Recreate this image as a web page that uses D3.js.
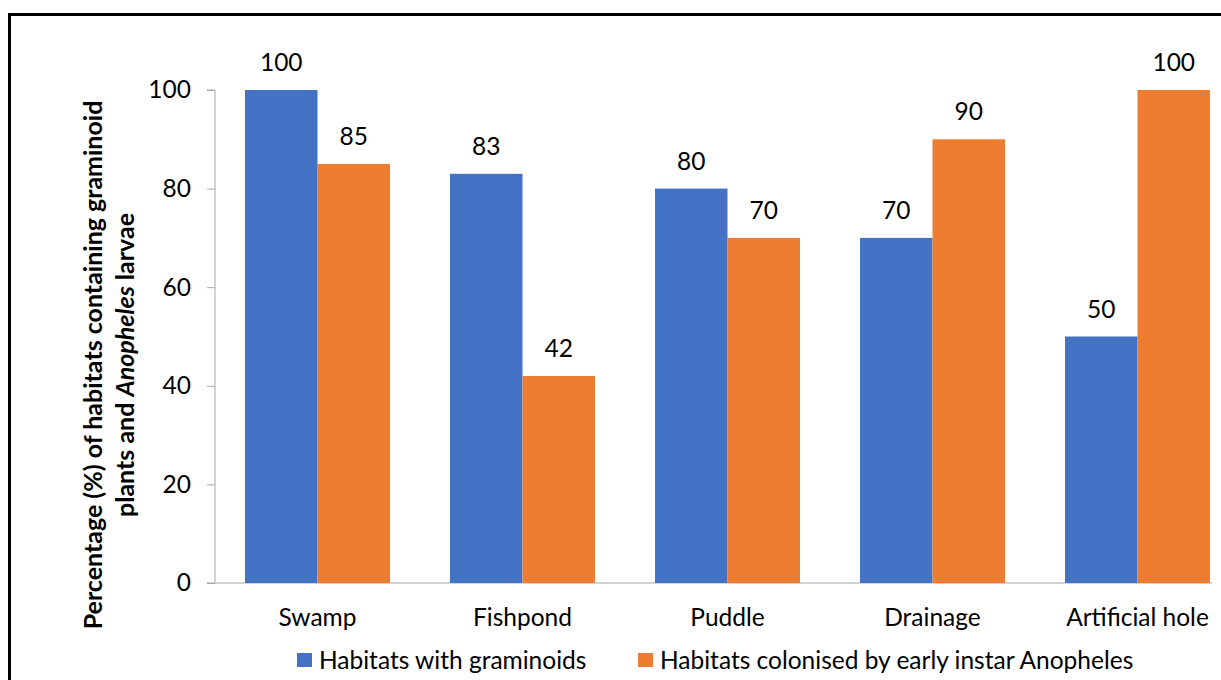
<!DOCTYPE html>
<html>
<head>
<meta charset="utf-8">
<script src="https://cdn.jsdelivr.net/npm/d3@7"></script>
<style>
  html, body { margin: 0; padding: 0; background: #fff; }
  svg { display: block; }
  text { font-family: Lato, "Open Sans", sans-serif; fill: #000; }
</style>
</head>
<body>
<svg id="chart" width="1221" height="680"></svg>
<script>
// Habitat types and the two percentage series
const categories = ["Swamp", "Fishpond", "Puddle", "Drainage", "Artificial hole"];
const graminoids = [100, 83, 80, 70, 50];
const colonised = [85, 42, 70, 90, 100];
const seriesNames = ["Habitats with graminoids", "Habitats colonised by early instar Anopheles"];
const yTicks = [0, 20, 40, 60, 80, 100];

const colors = ["#4472C4", "#ED7D31"];
const series = [graminoids, colonised];
const fontSize = 24.5;

const svg = d3.select("#chart");

// outer frame
svg.append("rect")
  .attr("x", 9.5).attr("y", 14.5)
  .attr("width", 1260).attr("height", 700)
  .attr("fill", "none").attr("stroke", "#000").attr("stroke-width", 3);

const plot = { left: 215, right: 1240, top: 90, bottom: 583 };

const x = d3.scaleBand()
  .domain(categories)
  .range([plot.left, plot.right])
  .paddingInner(0)
  .paddingOuter(0);

const groupPad = 30; // space on each side of a bar pair inside its band
const xInner = d3.scaleBand()
  .domain([0, 1])
  .range([groupPad, x.bandwidth() - groupPad]);

const y = d3.scaleLinear().domain([0, 100]).range([plot.bottom, plot.top]);

// y axis
const yAxis = d3.axisLeft(y).tickValues(yTicks).tickSize(8).tickPadding(16);
const gy = svg.append("g").attr("transform", `translate(${plot.left},0)`).call(yAxis);
gy.select(".domain").attr("stroke", "#A6A6A6").attr("d", `M-8,${plot.top}H0V${plot.bottom}`);
gy.selectAll(".tick line").attr("stroke", "#A6A6A6");
gy.selectAll(".tick text")
  .attr("font-family", "Lato, sans-serif")
  .attr("font-size", fontSize).attr("fill", "#000");

// x axis baseline
svg.append("line")
  .attr("x1", plot.left - 8).attr("x2", 1212)
  .attr("y1", y(0)).attr("y2", y(0))
  .attr("stroke", "#A6A6A6").attr("stroke-width", 1);

// bars and value labels
const groups = svg.append("g").selectAll("g")
  .data(categories)
  .join("g")
  .attr("transform", d => `translate(${x(d)},0)`);

series.forEach((vals, si) => {
  groups.append("rect")
    .attr("x", xInner(si))
    .attr("width", xInner.bandwidth())
    .attr("y", (d, i) => y(vals[i]))
    .attr("height", (d, i) => y(0) - y(vals[i]))
    .attr("fill", colors[si]);
  groups.append("text")
    .attr("x", xInner(si) + xInner.bandwidth() / 2)
    .attr("y", (d, i) => y(vals[i]) - 19)
    .attr("text-anchor", "middle")
    .attr("font-size", fontSize)
    .text((d, i) => vals[i]);
});

// category labels
svg.append("g").selectAll("text")
  .data(categories)
  .join("text")
  .attr("x", d => x(d) + x.bandwidth() / 2)
  .attr("y", 626)
  .attr("text-anchor", "middle")
  .attr("font-size", fontSize)
  .text(d => d);

// y axis title, two lines
const title = svg.append("g").attr("transform", "translate(0,365) rotate(-90)");
title.append("text")
  .attr("x", 0).attr("y", 102)
  .attr("text-anchor", "middle")
  .attr("font-size", 25).attr("font-weight", "bold")
  .text("Percentage (%) of habitats containing graminoid");
const t2 = title.append("text")
  .attr("x", 0).attr("y", 134)
  .attr("text-anchor", "middle")
  .attr("font-size", 25).attr("font-weight", "bold");
t2.append("tspan").text("plants and  ");
t2.append("tspan").attr("font-style", "italic").text("Anopheles");
t2.append("tspan").text(" larvae");

// legend
const legendX = [297, 638];
const legend = svg.append("g").selectAll("g")
  .data(seriesNames)
  .join("g")
  .attr("transform", (d, i) => `translate(${legendX[i]},653)`);
legend.append("rect")
  .attr("width", 15).attr("height", 14)
  .attr("fill", (d, i) => colors[i]);
legend.append("text")
  .attr("x", 22).attr("y", 16)
  .attr("font-size", fontSize)
  .text(d => d);
</script>
</body>
</html>
